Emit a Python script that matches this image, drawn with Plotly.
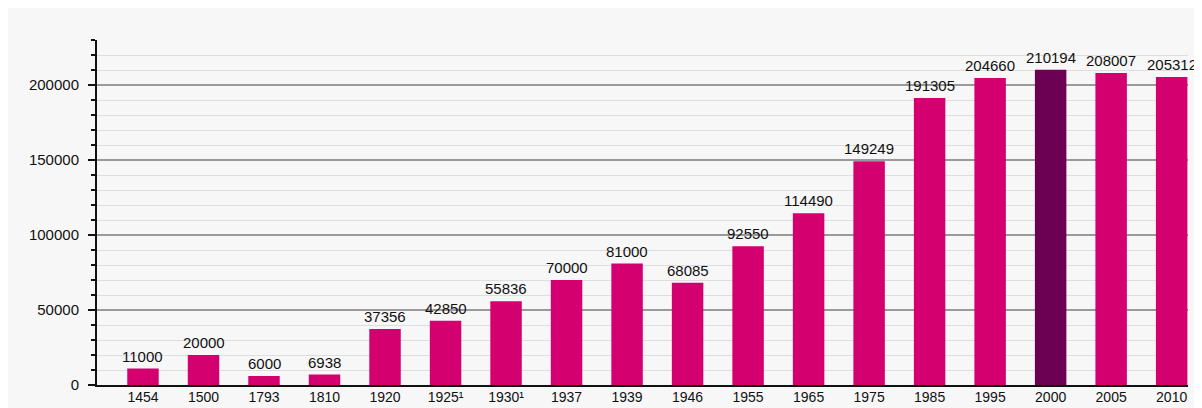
import plotly.graph_objects as go

years = ["1454", "1500", "1793", "1810", "1920", "1925¹", "1930¹", "1937", "1939",
         "1946", "1955", "1965", "1975", "1985", "1995", "2000", "2005", "2010"]
population = [11000, 20000, 6000, 6938, 37356, 42850, 55836, 70000, 81000,
              68085, 92550, 114490, 149249, 191305, 204660, 210194, 208007, 205312]
highlight_year = "2000"

BAR = "#d4006f"
DARK = "#6c0052"
colors = [DARK if y == highlight_year else BAR for y in years]

FONT = "Liberation Sans, Arial, sans-serif"
xs = list(range(len(years)))

fig = go.Figure(go.Bar(
    x=xs,
    y=population,
    marker=dict(color=colors, line=dict(width=0)),
    width=0.52,
    cliponaxis=False,
))

annotations = [
    dict(x=x, y=v, xref="x", yref="y", text=str(v), showarrow=False,
         yanchor="bottom", xanchor="center", yshift=2,
         font=dict(family=FONT, size=15, color="#111"))
    for x, v in zip(xs, population)
]

fig.update_layout(
    width=1194, height=400,
    margin=dict(l=89, r=14, t=32, b=23, autoexpand=False),
    paper_bgcolor="#f7f7f7",
    plot_bgcolor="rgba(0,0,0,0)",
    showlegend=False,
    font=dict(family=FONT, size=15, color="#111"),
    annotations=annotations,
    shapes=[dict(type="line", xref="paper", yref="paper",
                 x0=-7/1091, x1=0, y0=0, y1=0,
                 line=dict(color="#111", width=2))],
)

fig.update_xaxes(
    range=[-0.76, 17.27],
    tickmode="array",
    tickvals=xs,
    ticktext=years,
    tickfont=dict(size=14),
    ticks="outside", ticklen=0,
    ticklabelstandoff=-2,
    showline=True, linecolor="#111", linewidth=2,
    showgrid=False, zeroline=False,
    automargin=False,
)

fig.update_yaxes(
    range=[0, 230000],
    tickmode="linear", tick0=0, dtick=50000,
    tickformat="d",
    tickfont=dict(size=15),
    ticks="outside", ticklen=7, tickwidth=2, tickcolor="#111",
    ticklabelstandoff=6,
    showline=True, linecolor="#111", linewidth=2,
    showgrid=True, gridcolor="#9a9a9a", gridwidth=1.5,
    zeroline=False,
    minor=dict(dtick=10000, showgrid=True, gridcolor="#dedede", gridwidth=1,
               ticks="outside", ticklen=4, tickcolor="#111", tickwidth=2),
    automargin=False,
)

fig.write_html("out.html")
